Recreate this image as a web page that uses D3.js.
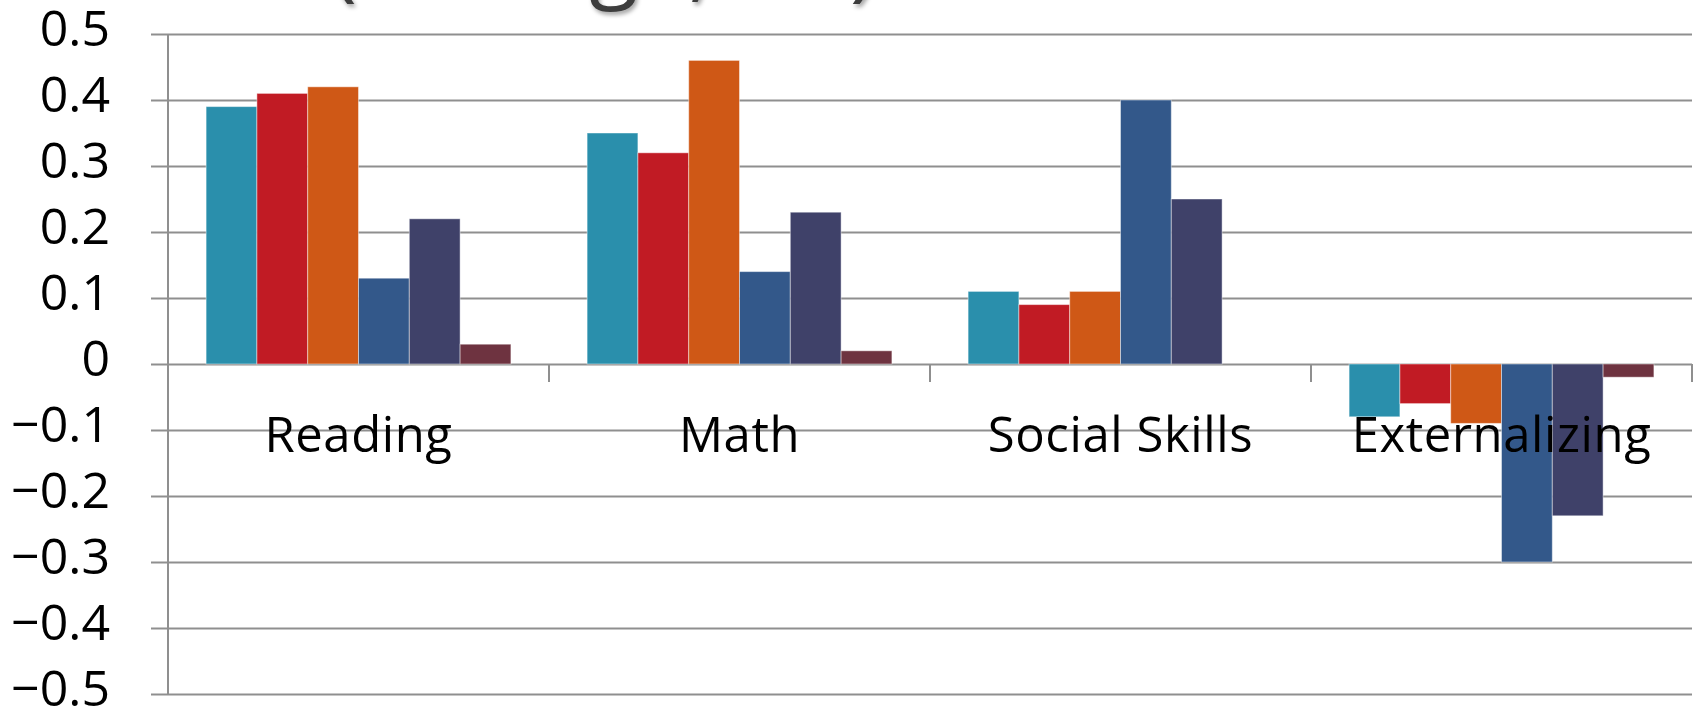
<!DOCTYPE html>
<html>
<head>
<meta charset="utf-8">
<script src="https://cdn.jsdelivr.net/npm/d3@7"></script>
<style>
  html, body { margin: 0; padding: 0; background: #ffffff; }
  svg { display: block; }
</style>
</head>
<body>
<svg id="chart" width="1696" height="707"></svg>
<script>
// Outcome categories along the x axis
const categories = ["Reading", "Math", "Social Skills", "Externalizing"];

// Six grouped series, one value per category
const series1 = [0.39, 0.35, 0.11, -0.08];
const series2 = [0.41, 0.32, 0.09, -0.06];
const series3 = [0.42, 0.46, 0.11, -0.09];
const series4 = [0.13, 0.14, 0.40, -0.30];
const series5 = [0.22, 0.23, 0.25, -0.23];
const series6 = [0.03, 0.02, 0.00, -0.02];

const seriesNames = ["S1", "S2", "S3", "S4", "S5", "S6"];
const seriesColors = ["#2A8FAC", "#C11B24", "#CF5816", "#33588A", "#3F4169", "#6E3340"];

// y-axis tick values and their labels
const yTicks = [0.5, 0.4, 0.3, 0.2, 0.1, 0, -0.1, -0.2, -0.3, -0.4, -0.5];
const yTickLabels = ["0.5", "0.4", "0.3", "0.2", "0.1", "0", "\u22120.1", "\u22120.2", "\u22120.3", "\u22120.4", "\u22120.5"];

const titleText = "Effect Sizes (average, SD)";

const allSeries = [series1, series2, series3, series4, series5, series6];

const svg = d3.select("#chart");
const plot = { left: 168, right: 1692, top: 34, bottom: 694 };
const gridColor = "#8f8f8f";
const font = "'Open Sans', sans-serif";

const y = d3.scaleLinear().domain([-0.5, 0.5]).range([plot.bottom, plot.top]);
const x0 = d3.scaleBand().domain(categories).range([plot.left, plot.right]).paddingInner(0).paddingOuter(0);
const x1 = d3.scaleBand().domain(seriesNames)
  .range([x0.bandwidth() * 0.1, x0.bandwidth() * 0.9]).padding(0);

// Title (runs off the top edge of the page)
const shadow = svg.append("defs").append("filter").attr("id", "titleShadow")
  .attr("x", "-10%").attr("y", "-50%").attr("width", "120%").attr("height", "200%");
shadow.append("feDropShadow").attr("dx", 2).attr("dy", 3).attr("stdDeviation", 2)
  .attr("flood-color", "#000").attr("flood-opacity", 0.35);

const probe = svg.append("text").attr("font-family", font).attr("font-size", 90)
  .text("Effect Sizes ");
const prefixWidth = probe.node().getComputedTextLength();
probe.remove();

svg.append("text")
  .attr("x", 307 - prefixWidth)
  .attr("y", -10)
  .attr("font-family", font)
  .attr("font-size", 90)
  .attr("fill", "#3d3d3d")
  .attr("filter", "url(#titleShadow)")
  .text(titleText);

// Horizontal gridlines with left tick stubs
const yAxis = d3.axisLeft(y).tickValues(yTicks)
  .tickSize(-(plot.right - plot.left))
  .tickFormat((d, i) => yTickLabels[i]);

const gy = svg.append("g").attr("transform", `translate(${plot.left},0)`).call(yAxis);
gy.select(".domain").remove();
gy.selectAll(".tick line")
  .attr("x1", -17)
  .attr("stroke", gridColor)
  .attr("stroke-width", 2);
gy.selectAll(".tick text")
  .attr("x", -58)
  .attr("dy", null)
  .attr("y", 11)
  .attr("font-family", font)
  .attr("font-size", 50)
  .attr("fill", "#000")
  .attr("text-anchor", "end");

// Vertical axis line
svg.append("line")
  .attr("x1", plot.left).attr("x2", plot.left)
  .attr("y1", plot.top).attr("y2", plot.bottom)
  .attr("stroke", gridColor).attr("stroke-width", 2);

// Bars
const groups = svg.append("g").selectAll("g")
  .data(categories)
  .join("g")
  .attr("transform", d => `translate(${x0(d)},0)`);

groups.selectAll("rect")
  .data((c, ci) => allSeries.map((s, si) => ({ key: seriesNames[si], value: s[ci], color: seriesColors[si] })))
  .join("rect")
  .attr("x", d => x1(d.key))
  .attr("width", x1.bandwidth())
  .attr("y", d => y(Math.max(0, d.value)))
  .attr("height", d => Math.abs(y(d.value) - y(0)))
  .attr("fill", d => d.color)
  .attr("stroke", "rgba(255,255,255,0.45)")
  .attr("stroke-width", 1);

// Category tick marks below the zero line
const dividers = [plot.left].concat(categories.map(c => x0(c) + x0.bandwidth()));
svg.append("g").selectAll("line")
  .data(dividers)
  .join("line")
  .attr("x1", d => d).attr("x2", d => d)
  .attr("y1", y(0)).attr("y2", y(0) + 18)
  .attr("stroke", gridColor).attr("stroke-width", 2);

// Category labels
svg.append("g").selectAll("text")
  .data(categories)
  .join("text")
  .attr("x", d => x0(d) + x0.bandwidth() / 2)
  .attr("y", y(0) + 88)
  .attr("text-anchor", "middle")
  .attr("font-family", font)
  .attr("font-size", 49)
  .attr("letter-spacing", 0.6)
  .attr("fill", "#000")
  .text(d => d);
</script>
</body>
</html>
